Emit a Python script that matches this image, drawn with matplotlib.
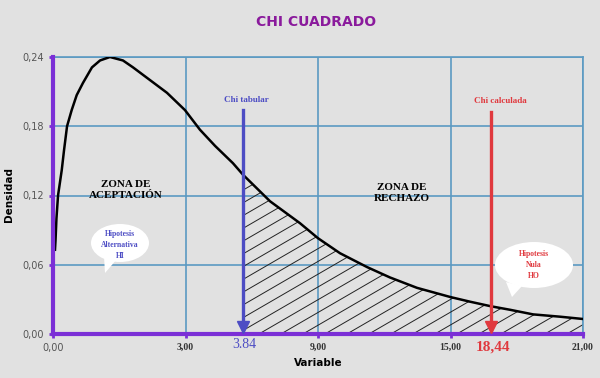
import matplotlib
matplotlib.use("Agg")
import matplotlib.pyplot as plt
import numpy as np
from matplotlib.patches import Ellipse, Polygon

# ── Data (x axis ticks are evenly spaced slots) ───────────────────────────────
TICK_POS    = [0, 1, 2, 3, 4]
TICK_LABELS = ["0,00", "3,00", "9,00", "15,00", "21,00"]
Y_TICKS     = [0.00, 0.06, 0.12, 0.18, 0.24]
Y_LABELS    = ["0,00", "0,06", "0,12", "0,18", "0,24"]

CURVE_X = [0.015, 0.019, 0.026, 0.038, 0.066, 0.083, 0.106, 0.141, 0.179,
           0.226, 0.294, 0.355, 0.430, 0.528, 0.604, 0.732, 0.860, 0.996,
           1.109, 1.223, 1.358, 1.434, 1.638, 1.864, 2.0, 2.166, 2.370,
           2.543, 2.747, 3.0, 3.147, 3.306, 3.449, 3.623, 3.826, 4.0]
CURVE_Y = [0.073, 0.081, 0.100, 0.120, 0.142, 0.159, 0.180, 0.194, 0.207,
           0.2175, 0.231, 0.237, 0.240, 0.237, 0.231, 0.220, 0.209, 0.194,
           0.177, 0.163, 0.148, 0.138, 0.115, 0.096, 0.083, 0.070, 0.058,
           0.049, 0.040, 0.032, 0.028, 0.024, 0.021, 0.017, 0.015, 0.013]

CHI_TAB_X,  CHI_TAB_LABEL  = 1.434, "3.84"
CHI_CALC_X, CHI_CALC_LABEL = 3.306, "18,44"
CHI_TAB_TOP, CHI_CALC_TOP  = 0.194, 0.192

# ── Colours ───────────────────────────────────────────────────────────────────
BG          = "#e1e1e1"
AXIS_PURPLE = "#7b2fd6"
GRID_BLUE   = "#5b9ac2"
TITLE_C     = "#8a1a9c"
BLUE        = "#4d4dc4"
RED         = "#e0393e"

W, H = 600, 378


def px(x, y):
    """pixel position -> figure fraction"""
    return x / W, 1 - y / H


fig = plt.figure(figsize=(6, 3.78), dpi=100, facecolor=BG)
ax = fig.add_axes([53 / W, 1 - 334 / H, 530 / W, 277 / H], facecolor=BG)

ax.set_xlim(0, 4)
ax.set_ylim(0, 0.24)

# grid + frame
ax.set_xticks(TICK_POS)
ax.set_yticks(Y_TICKS)
ax.grid(True, color=GRID_BLUE, linewidth=1.2, zorder=0)
ax.set_axisbelow(True)
for side in ("top", "right"):
    ax.spines[side].set_color(GRID_BLUE)
    ax.spines[side].set_linewidth(1.2)
for side in ("left", "bottom"):
    ax.spines[side].set_color(AXIS_PURPLE)
    ax.spines[side].set_linewidth(3)
    ax.spines[side].set_zorder(5)

ax.tick_params(colors=AXIS_PURPLE, length=3, width=2)
ax.set_xticklabels(TICK_LABELS)
ax.set_yticklabels(Y_LABELS)
for lab in ax.get_yticklabels():
    lab.set_color("#555555")
    lab.set_fontsize(7)
for i, lab in enumerate(ax.get_xticklabels()):
    lab.set_fontsize(7)
    if i == 0:
        lab.set_color("#555555")
    else:
        lab.set_color("#333333")
        lab.set_family("Liberation Serif")
        lab.set_fontweight("bold")

# hatched rejection area
cx = np.array(CURVE_X)
cy = np.array(CURVE_Y)
area = ax.fill_between(cx, cy, where=cx >= CHI_TAB_X, facecolor="none",
                       edgecolor="none", zorder=1)
clip = area.get_paths()[0]
slope = 0.0666      # ~30 deg on screen
for c in np.arange(CHI_TAB_X - 3.2, 4.2, 0.166):
    ln, = ax.plot([c, c + 3.2], [0, 3.2 * slope], color="#222222",
                  linewidth=0.7, zorder=1)
    ln.set_clip_path(clip, area.get_transform())

# density curve
ax.plot(cx, cy, color="black", linewidth=1.8, zorder=3,
        solid_joinstyle="round")

# chi lines
ax.plot([CHI_TAB_X, CHI_TAB_X], [0.004, CHI_TAB_TOP], color=BLUE,
        linewidth=2.4, zorder=4)
ax.plot([CHI_TAB_X], [0.006], marker="v", color=BLUE, markersize=8,
        zorder=6, clip_on=False)
ax.plot([CHI_CALC_X, CHI_CALC_X], [0.004, CHI_CALC_TOP], color=RED,
        linewidth=2.4, zorder=4)
ax.plot([CHI_CALC_X], [0.006], marker="v", color=RED, markersize=9,
        zorder=6, clip_on=False)

# ── Texts ────────────────────────────────────────────────────────────────────
fig.text(*px(316, 22), "CHI CUADRADO", color=TITLE_C, fontsize=10,
         fontweight="heavy", ha="center", va="center")
fig.text(*px(9, 194), "Densidad", rotation=90, fontsize=7.5,
         fontweight="heavy", ha="center", va="center")
fig.text(*px(318, 363), "Variable", fontsize=7.5, fontweight="heavy",
         ha="center", va="center")

zone_kw = dict(family="Liberation Serif", fontweight="bold", fontsize=8,
               ha="center", va="center", linespacing=1.4)
fig.text(*px(126, 190), "ZONA DE\nACEPTACIÓN", **zone_kw)
fig.text(*px(402, 193), "ZONA DE\nRECHAZO", **zone_kw)

small_kw = dict(family="Liberation Serif", fontweight="bold", fontsize=6.5,
                ha="center", va="center")
fig.text(*px(246, 100), "Chi tabular", color=BLUE, **small_kw)
fig.text(*px(500, 101), "Chi calculada", color=RED, **small_kw)

fig.text(*px(244, 345), CHI_TAB_LABEL, color=BLUE, family="Liberation Serif",
         fontsize=10, ha="center", va="center")
fig.text(*px(493, 347), CHI_CALC_LABEL, color=RED, family="Liberation Serif",
         fontsize=11, fontweight="bold", ha="center", va="center")

# speech bubbles
for (ecx, ecy, ew, eh), tail in (
        ((120, 243, 58, 38), [(104, 256), (117, 259), (105, 273)]),
        ((534, 265, 78, 46), [(506, 282), (522, 286), (512, 297)])):
    fig.add_artist(Ellipse(px(ecx, ecy), ew / W, eh / H, facecolor="white",
                           edgecolor="none", transform=fig.transFigure,
                           zorder=2))
    fig.add_artist(Polygon([px(*p) for p in tail], closed=True,
                           facecolor="white", edgecolor="none",
                           transform=fig.transFigure, zorder=2))

bub_kw = dict(family="Liberation Serif", fontweight="bold", fontsize=5.5,
              ha="center", va="center", linespacing=1.5, zorder=3)
fig.text(*px(120, 245), "Hipotesis\nAlternativa\nHI", color=BLUE, **bub_kw)
fig.text(*px(534, 265), "Hipotesis\nNula\nHO", color=RED, **bub_kw)

fig.savefig("out.png", dpi=100, facecolor=BG)
